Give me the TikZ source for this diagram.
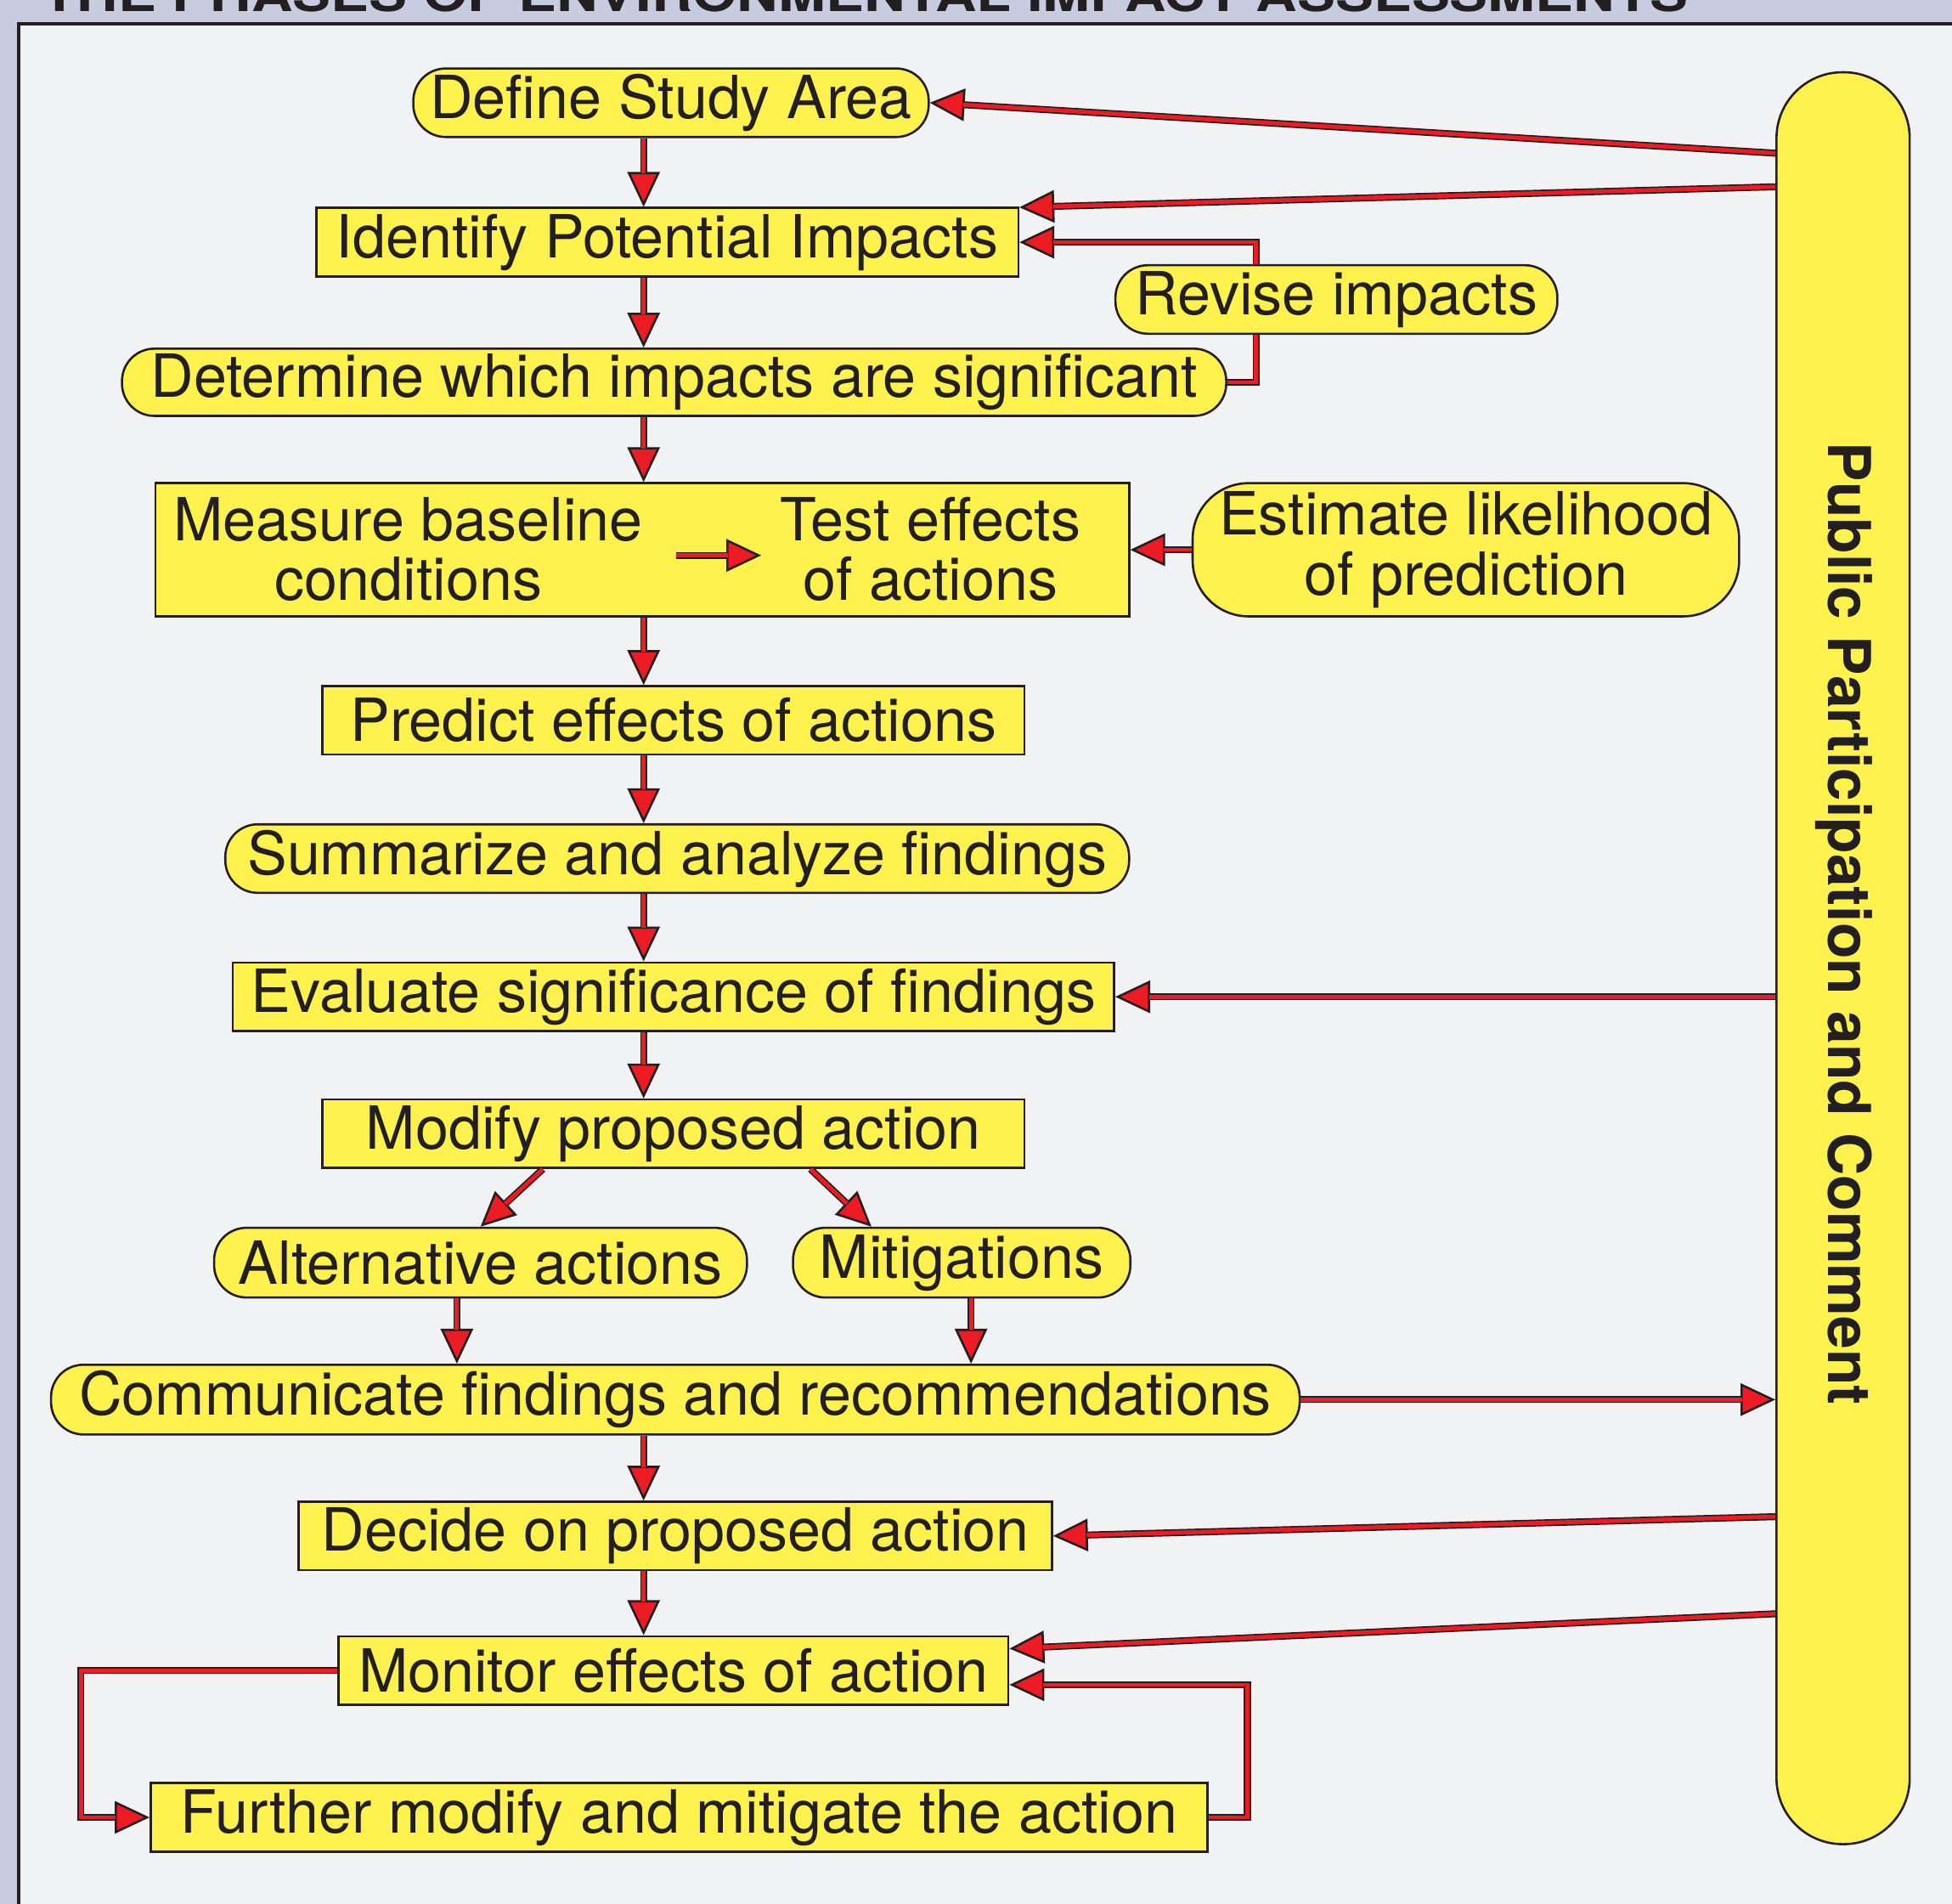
\documentclass[tikz,border=0pt]{standalone}
\usepackage{fontspec}
\setmainfont{TeX Gyre Heros}
\usepackage{tikz}
\usetikzlibrary{arrows.meta,positioning,shapes}
\usepackage{xcolor}
\definecolor{boxyellow}{HTML}{FFF24F}
\definecolor{arrowred}{HTML}{ED1C24}
\definecolor{inkblack}{HTML}{231F20}
\definecolor{panelgrey}{HTML}{F1F2F4}
\definecolor{edgeblue}{HTML}{C8CCE1}

\begin{document}
\begin{tikzpicture}[line join=miter,
box node/.style={draw=inkblack,line width=0.5pt,fill=boxyellow,minimum height=0.55cm,inner sep=1pt},
pill node/.style={box node,rounded corners=0.26cm},
flow line/.style={draw=inkblack,line width=0.056cm,postaction={draw=arrowred,line width=0.033cm,-}},
flow arrow/.style={draw=inkblack,line width=0.056cm,-{Triangle[length=0.28cm,width=0.26cm,fill=arrowred,line width=0.5pt]},postaction={draw=arrowred,line width=0.033cm,-,shorten >=0.27cm}}]
\fill[edgeblue] (0,0) rectangle (15.68,-15.29);
\useasboundingbox (0,0) rectangle (15.68,-15.29);
\fill[panelgrey] (0.15,-0.19) rectangle (15.68,-15.29);
\draw[inkblack,line width=0.032cm] (0.15,-15.29) |- (15.68,-0.19);
\begin{scope}
\clip (0,0) rectangle (15.68,-0.17);
\node[anchor=base,xscale=1.22,inner sep=0pt,text=inkblack,font=\fontsize{10.7}{12}\selectfont\bfseries] (title) at (6.95,-0.095) {THE PHASES OF ENVIRONMENTAL IMPACT ASSESSMENTS};
\end{scope}
\begin{scope}[every node/.style={font=\fontsize{13.6}{13.7}\selectfont,text=inkblack}]
\node[pill node,minimum width=4.14cm] (define) at (5.39,-0.825) {Define Study Area};
\node[box node,minimum width=5.64cm] (identify) at (5.36,-1.945) {Identify Potential Impacts};
\node[pill node,minimum width=3.55cm] (revise) at (10.735,-2.405) {Revise impacts};
\node[pill node,minimum width=8.87cm,minimum height=0.54cm] (determine) at (5.415,-3.07) {Determine which impacts are significant};
\node[box node,minimum width=7.82cm,minimum height=1.07cm] (baseline) at (5.16,-4.415) {};
\node[align=center] (measure) at (3.28,-4.41) {Measure baseline\\conditions};
\node[align=center] (test) at (7.475,-4.41) {Test effects\\of actions};
\node[pill node,rounded corners=0.45cm,minimum width=4.39cm,minimum height=1.07cm,align=center] (estimate) at (11.775,-4.415) {Estimate likelihood\\of prediction};
\node[box node,minimum width=5.64cm] (predict) at (5.41,-5.785) {Predict effects of actions};
\node[pill node,minimum width=7.26cm] (summarize) at (5.44,-6.895) {Summarize and analyze findings};
\node[box node,minimum width=7.08cm] (evaluate) at (5.41,-8.005) {Evaluate significance of findings};
\node[box node,minimum width=5.64cm] (modify) at (5.41,-9.105) {Modify proposed action};
\node[pill node,minimum width=4.28cm,minimum height=0.56cm] (alternative) at (3.86,-10.14) {Alternative actions};
\node[pill node,minimum width=2.71cm,minimum height=0.56cm] (mitigations) at (7.725,-10.14) {Mitigations};
\node[pill node,minimum width=10.03cm,minimum height=0.56cm] (communicate) at (5.425,-11.24) {Communicate findings and recommendations};
\node[box node,minimum width=6.05cm] (decide) at (5.425,-12.335) {Decide on proposed action};
\node[box node,minimum width=5.38cm] (monitor) at (5.41,-13.415) {Monitor effects of action};
\node[box node,minimum width=8.49cm] (further) at (5.455,-14.595) {Further modify and mitigate the action};
\node[pill node,rounded corners=0.53cm,minimum width=1.07cm,minimum height=14.23cm] (public) at (14.805,-7.695) {};
\node[rotate=-90,font=\fontsize{13.5}{14}\selectfont\bfseries] (public label) at (14.81,-7.42) {Public Participation and Comment};
\end{scope}
% turning points of the connectors
\coordinate (spine) at (5.17,0);
\coordinate (revise x) at (10.09,0);
\coordinate (left drop) at (3.67,0);
\coordinate (right drop) at (7.80,0);
\coordinate (loop left) at (0.65,0);
\coordinate (loop right) at (10.02,-13.53);
\begin{scope}
\draw[flow arrow] (define.south -| spine) -- (identify.north -| spine);
\draw[flow arrow] (identify.south -| spine) -- (determine.north -| spine);
\draw[flow arrow] (determine.south -| spine) -- (baseline.north -| spine);
\draw[flow arrow] (baseline.south -| spine) -- (predict.north -| spine);
\draw[flow arrow] (predict.south -| spine) -- (summarize.north -| spine);
\draw[flow arrow] (summarize.south -| spine) -- (evaluate.north -| spine);
\draw[flow arrow] (evaluate.south -| spine) -- (modify.north -| spine);
\draw[flow arrow] ([xshift=-1.05cm]modify.south) -- (alternative.north);
\draw[flow arrow] ([xshift=1.10cm]modify.south) -- ([xshift=-0.725cm]mitigations.north);
\draw[flow arrow] (alternative.south -| left drop) -- (communicate.north -| left drop);
\draw[flow arrow] (mitigations.south -| right drop) -- (communicate.north -| right drop);
\draw[flow arrow] (communicate.south -| spine) -- (decide.north -| spine);
\draw[flow arrow] (decide.south -| spine) -- (monitor.north -| spine);
\draw[flow arrow] ([xshift=0.14cm,yshift=-0.05cm]measure.east) -- ([xshift=-0.03cm,yshift=-0.05cm]test.west);
\draw[flow arrow] (estimate.west) -- (estimate.west -| baseline.east);
\draw[flow line] (determine.east) -| (revise.south -| revise x);
\draw[flow arrow] (revise.north -| revise x) |- (identify.east);
\draw[flow arrow] (public.west |- 0,-1.23) -- (define.east);
\draw[flow arrow] (public.west |- 0,-1.50) -- ([yshift=0.28cm]identify.east);
\draw[flow arrow] (public.west |- evaluate.east) -- (evaluate.east);
\draw[flow arrow] (communicate.east) -- (communicate.east -| public.west);
\draw[flow arrow] (public.west |- 0,-12.18) -- (decide.east);
\draw[flow arrow] (public.west |- 0,-12.96) -- ([yshift=0.175cm]monitor.east);
\draw[flow arrow] (monitor.west) -| (further.west -| loop left) -- (further.west);
\draw[flow arrow] (further.east) -| (loop right) -- (loop right -| monitor.east);
\end{scope}
\end{tikzpicture}
\end{document}
